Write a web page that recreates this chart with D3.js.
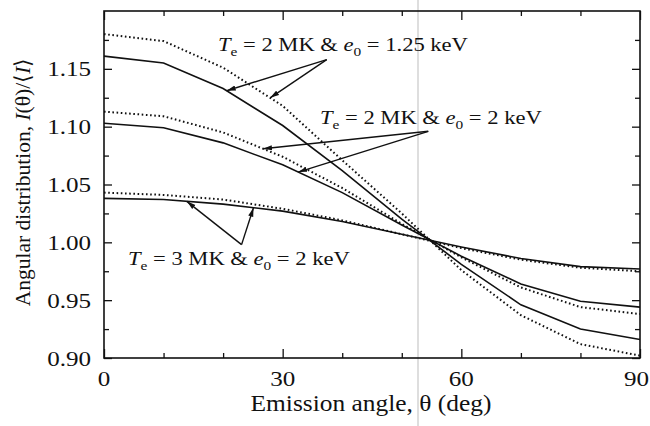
<!DOCTYPE html>
<html><head><meta charset="utf-8">
<script src="https://cdn.jsdelivr.net/npm/d3@7"></script>
<style>
html,body{margin:0;padding:0;background:#fff;}
svg text{font-family:"Liberation Serif","Times New Roman",serif;fill:#111;}
</style></head>
<body><svg id="c" width="650" height="426"></svg>
<script>
// ---- data ----
const angles = [0, 10, 20, 30, 40, 50, 60, 70, 80, 90];
// Te = 2 MK & e0 = 1.25 keV
const solid125  = [1.161, 1.155, 1.133, 1.101, 1.062, 1.020, 0.981, 0.946, 0.925, 0.916];
const dotted125 = [1.180, 1.174, 1.151, 1.118, 1.071, 1.025, 0.976, 0.937, 0.912, 0.902];
// Te = 2 MK & e0 = 2 keV
const solid2MK  = [1.103, 1.099, 1.086, 1.067, 1.043, 1.015, 0.988, 0.964, 0.949, 0.944];
const dotted2MK = [1.113, 1.109, 1.095, 1.074, 1.047, 1.016, 0.987, 0.961, 0.944, 0.938];
// Te = 3 MK & e0 = 2 keV
const solid3MK  = [1.038, 1.037, 1.033, 1.027, 1.018, 1.007, 0.996, 0.986, 0.979, 0.977];
const dotted3MK = [1.043, 1.041, 1.037, 1.029, 1.019, 1.007, 0.995, 0.985, 0.978, 0.975];

const xMajorTicks = [0, 30, 60, 90];
const xMinorTicks = [10, 20, 40, 50, 70, 80];
const yMajorTicks = [0.90, 0.95, 1.00, 1.05, 1.10, 1.15];
const yMinorTicks = [0.925, 0.975, 1.025, 1.075, 1.125, 1.175];

// ---- layout ----
const svg = d3.select("#c");
const L = 104, R = 640, T = 11, B = 358;
const SX = 1.14; // horizontal stretch of the scanned lettering
const x = d3.scaleLinear().domain([0, 90]).range([L, R]);
const y = d3.scaleLinear().domain([0.90, 1.20]).range([B, T]);

// scan artefact line
svg.append("line").attr("x1", 418).attr("x2", 418).attr("y1", 0).attr("y2", 426)
  .attr("stroke", "#bdbdbd").attr("stroke-width", 1);

const series = [
  {v: solid125, dash: null}, {v: dotted125, dash: "1.6,2.6"},
  {v: solid2MK, dash: null}, {v: dotted2MK, dash: "1.6,2.6"},
  {v: solid3MK, dash: null}, {v: dotted3MK, dash: "1.6,2.6"}
];
const line = d3.line().x(d => x(d[0])).y(d => y(d[1])).curve(d3.curveLinear);
series.forEach(s => {
  svg.append("path").datum(angles.map((a, i) => [a, s.v[i]]))
    .attr("d", line).attr("fill", "none").attr("stroke", "#111")
    .attr("stroke-width", s.dash ? 2 : 1.6)
    .attr("stroke-dasharray", s.dash);
});

// ---- axes (ticks inward on all four sides) ----
function ax(axisGen, tr, vals, size) {
  const g = svg.append("g").attr("transform", tr)
    .call(axisGen.tickValues(vals).tickSize(size).tickFormat(""));
  g.select(".domain").remove();
  g.selectAll("line").attr("stroke", "#111").attr("stroke-width", 1.3);
  return g;
}
ax(d3.axisTop(x), `translate(0,${B})`, xMajorTicks, 9);
ax(d3.axisTop(x), `translate(0,${B})`, xMinorTicks, 5);
ax(d3.axisBottom(x), `translate(0,${T})`, xMajorTicks, 9);
ax(d3.axisBottom(x), `translate(0,${T})`, xMinorTicks, 5);
ax(d3.axisRight(y), `translate(${L},0)`, yMajorTicks, 8);
ax(d3.axisRight(y), `translate(${L},0)`, yMinorTicks, 5);
ax(d3.axisLeft(y), `translate(${R},0)`, yMajorTicks, 8);
ax(d3.axisLeft(y), `translate(${R},0)`, yMinorTicks, 5);

svg.append("rect").attr("x", L).attr("y", T).attr("width", R - L).attr("height", B - T)
  .attr("fill", "none").attr("stroke", "#111").attr("stroke-width", 1.6);

function stretched(px, py, size, anchor) {
  return svg.append("text")
    .attr("transform", `translate(${px},${py}) scale(${SX},1)`)
    .attr("text-anchor", anchor).attr("font-size", size);
}

// tick labels (the last one sits against the right edge, as in the scan)
xMajorTicks.forEach((d, i) => {
  const last = i === xMajorTicks.length - 1;
  stretched(last ? 649 : x(d), 386, 22, last ? "end" : "middle").text(d);
});
yMajorTicks.forEach(d => stretched(91, y(d) + 7.5, 22, "end").text(d.toFixed(2)));

// axis titles
stretched(371, 411, 22.3, "middle").text("Emission angle, θ (deg)");
const yt = svg.append("text").attr("transform", "translate(30,182) rotate(-90)")
  .attr("text-anchor", "middle").attr("font-size", 21.5);
yt.append("tspan").text("Angular distribution, ");
yt.append("tspan").attr("font-style", "italic").text("I");
yt.append("tspan").text("(θ)/⟨");
yt.append("tspan").attr("font-style", "italic").text("I");
yt.append("tspan").text("⟩");

// ---- annotations ----
function label(px, py, te, e0) {
  const t = stretched(px, py, 19.8, "start");
  t.append("tspan").attr("font-style", "italic").text("T");
  t.append("tspan").attr("dy", 5).attr("font-size", 13.5).text("e");
  t.append("tspan").attr("dy", -5).text(` = ${te} MK & `);
  t.append("tspan").attr("font-style", "italic").text("e");
  t.append("tspan").attr("dy", 5).attr("font-size", 13.5).text("0");
  t.append("tspan").attr("dy", -5).text(` = ${e0} keV`);
}
label(218, 51, 2, "1.25");
label(320, 124, 2, "2");
label(128, 265, 3, "2");

svg.append("defs").append("marker").attr("id", "ah")
  .attr("viewBox", "0 -3 9 6").attr("refX", 9).attr("refY", 0)
  .attr("markerWidth", 9).attr("markerHeight", 6)
  .attr("markerUnits", "userSpaceOnUse").attr("orient", "auto")
  .append("path").attr("d", "M0,-2.6L9,0L0,2.6Z").attr("fill", "#111");

function at(vals, a) {
  const i = Math.min(Math.floor(a / 10), 8), f = (a - angles[i]) / 10;
  return vals[i] + f * (vals[i + 1] - vals[i]);
}
function arrow(ta, tv, vals, a) {
  svg.append("line").attr("x1", x(ta)).attr("y1", y(tv))
    .attr("x2", x(a)).attr("y2", y(at(vals, a)))
    .attr("stroke", "#111").attr("stroke-width", 1.4).attr("marker-end", "url(#ah)");
}
arrow(37.4, 1.158, solid125, 20.6);
arrow(37.4, 1.158, dotted125, 27.9);
arrow(54.45, 1.096, dotted2MK, 26.7);
arrow(54.45, 1.096, solid2MK, 32.6);
arrow(23.1, 0.998, solid3MK, 13.9);
arrow(23.1, 0.998, solid3MK, 25.1);
</script>
</body></html>
